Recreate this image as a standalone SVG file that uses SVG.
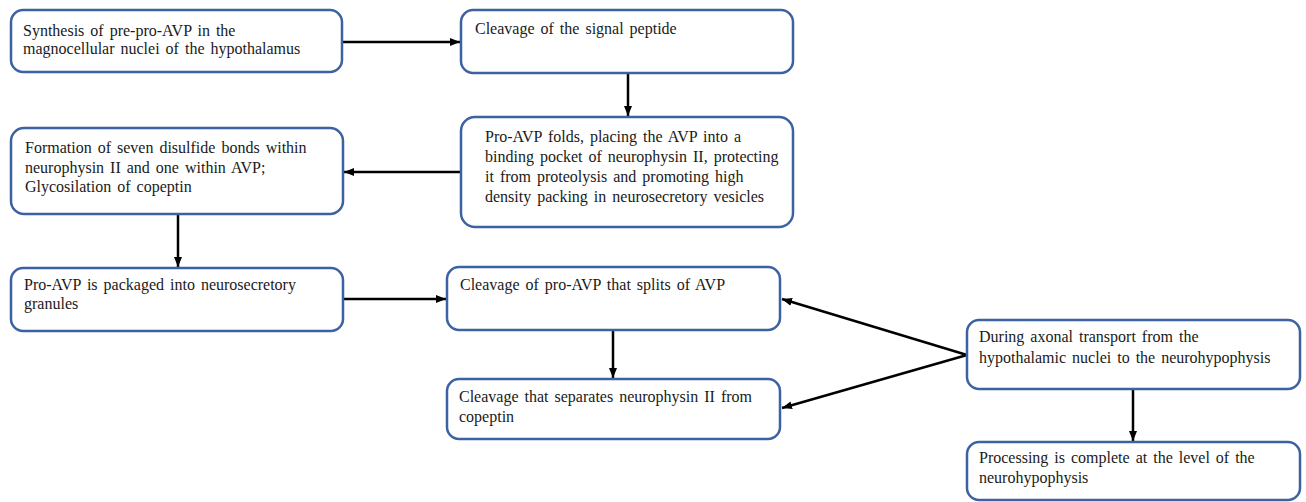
<svg xmlns="http://www.w3.org/2000/svg" width="1306" height="502" viewBox="0 0 1306 502">
  <style>
    .box { fill: #ffffff; stroke: #3d62a2; stroke-width: 2.5; }
    .lbl { font-family: "Liberation Serif", "Times New Roman", serif; font-size: 16px; fill: #1a1a1a; word-spacing: 2px; }
    .conn { stroke: #000000; stroke-width: 2.5; fill: none; marker-end: url(#arrow); }
  </style>
  <defs>
    <marker id="arrow" markerUnits="userSpaceOnUse" markerWidth="10" markerHeight="10" viewBox="0 0 10 10" refX="10" refY="5" orient="auto">
      <path d="M0,1 L10,5 L0,9 Z" fill="#000000"/>
    </marker>
  </defs>

  <rect width="1306" height="502" fill="#ffffff"/>

  <g id="connectors">
    <line class="conn" x1="343" y1="42" x2="460" y2="42"/>
    <line class="conn" x1="628" y1="73" x2="628" y2="116"/>
    <line class="conn" x1="461" y1="172" x2="344" y2="172"/>
    <line class="conn" x1="178" y1="214" x2="178" y2="267"/>
    <line class="conn" x1="343" y1="299" x2="446" y2="299"/>
    <line class="conn" x1="613" y1="330" x2="613" y2="378"/>
    <line class="conn" x1="967" y1="355" x2="782" y2="299"/>
    <line class="conn" x1="967" y1="355" x2="782" y2="408"/>
    <line class="conn" x1="1133" y1="389" x2="1133" y2="441"/>
  </g>

  <g id="synthesis">
    <rect class="box" x="11" y="10" width="331" height="62" rx="12"/>
    <text class="lbl" x="23" y="36">Synthesis of pre-pro-AVP in the</text>
    <text class="lbl" x="23" y="54">magnocellular nuclei of the hypothalamus</text>
  </g>

  <g id="signal-peptide">
    <rect class="box" x="461" y="10" width="332" height="63" rx="12"/>
    <text class="lbl" x="475" y="34">Cleavage of the signal peptide</text>
  </g>

  <g id="folding">
    <rect class="box" x="461" y="117" width="332" height="110" rx="14"/>
    <text class="lbl" x="485" y="142">Pro-AVP folds, placing the AVP into a</text>
    <text class="lbl" x="485" y="162">binding pocket of neurophysin II, protecting</text>
    <text class="lbl" x="485" y="182">it from proteolysis and promoting high</text>
    <text class="lbl" x="485" y="202">density packing in neurosecretory vesicles</text>
  </g>

  <g id="disulfide">
    <rect class="box" x="11" y="128" width="332" height="86" rx="13"/>
    <text class="lbl" x="25" y="153">Formation of seven disulfide bonds within</text>
    <text class="lbl" x="25" y="173">neurophysin II and one within AVP;</text>
    <text class="lbl" x="25" y="192">Glycosilation of copeptin</text>
  </g>

  <g id="packaging">
    <rect class="box" x="11" y="268" width="332" height="63" rx="12"/>
    <text class="lbl" x="24" y="290">Pro-AVP is packaged into neurosecretory</text>
    <text class="lbl" x="24" y="309">granules</text>
  </g>

  <g id="avp-split">
    <rect class="box" x="447" y="267" width="333" height="63" rx="12"/>
    <text class="lbl" x="460" y="290">Cleavage of pro-AVP that splits of AVP</text>
  </g>

  <g id="copeptin-split">
    <rect class="box" x="447" y="379" width="333" height="60" rx="12"/>
    <text class="lbl" x="459" y="402">Cleavage that separates neurophysin II from</text>
    <text class="lbl" x="459" y="422">copeptin</text>
  </g>

  <g id="axonal-transport">
    <rect class="box" x="967" y="320" width="333" height="69" rx="12"/>
    <text class="lbl" x="979" y="342">During axonal transport from the</text>
    <text class="lbl" x="979" y="363">hypothalamic nuclei to the neurohypophysis</text>
  </g>

  <g id="complete">
    <rect class="box" x="967" y="442" width="333" height="58" rx="12"/>
    <text class="lbl" x="979" y="463">Processing is complete at the level of the</text>
    <text class="lbl" x="979" y="483">neurohypophysis</text>
  </g>
</svg>
